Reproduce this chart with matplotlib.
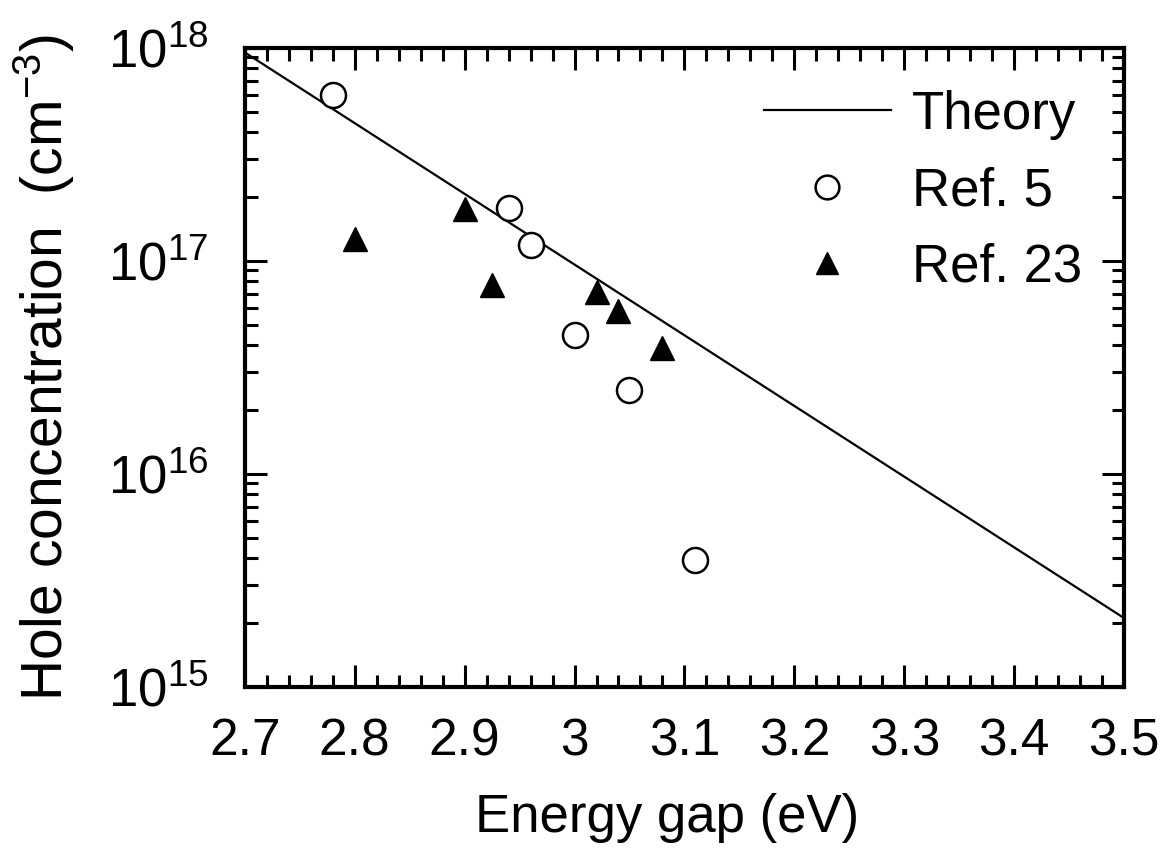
import numpy as np
import matplotlib
matplotlib.use("Agg")
import matplotlib.pyplot as plt
from matplotlib.ticker import FixedLocator, MultipleLocator, LogLocator, FuncFormatter, NullFormatter

plt.rcParams['font.family'] = ['Liberation Sans', 'DejaVu Sans']
plt.rcParams['mathtext.fontset'] = 'custom'
plt.rcParams['mathtext.rm'] = 'Liberation Sans'
plt.rcParams['mathtext.it'] = 'Liberation Sans'

# data
theory_x = [2.7, 3.5]
theory_y = [9.5e17, 2.1e15]

ref5_x = [2.78, 2.94, 2.96, 3.00, 3.05, 3.11]
ref5_y = [6.0e17, 1.77e17, 1.19e17, 4.5e16, 2.46e16, 3.95e15]

ref23_x = [2.80, 2.90, 2.925, 3.02, 3.04, 3.08]
ref23_y = [1.26e17, 1.75e17, 7.7e16, 7.1e16, 5.8e16, 3.9e16]

xticks = [2.7, 2.8, 2.9, 3.0, 3.1, 3.2, 3.3, 3.4, 3.5]

fig = plt.figure(figsize=(11.71, 8.51), dpi=100)
ax = fig.add_axes([0.209, 0.193, 0.751, 0.751])

ax.plot(theory_x, theory_y, color='black', lw=1.6, label='Theory')
ax.plot(ref5_x, ref5_y, 'o', ms=18, mfc='white', mec='black', mew=1.8, ls='none', label='Ref. 5')
ax.plot(ref23_x, ref23_y, '^', ms=17, color='black', ls='none', label='Ref. 23')

ax.set_yscale('log')
ax.set_xlim(2.7, 3.5)
ax.set_ylim(1e15, 1e18)

ax.xaxis.set_major_locator(FixedLocator(xticks))
ax.xaxis.set_major_formatter(FuncFormatter(lambda v, p: '%g' % round(v, 2)))
ax.xaxis.set_minor_locator(MultipleLocator(0.02))
ax.yaxis.set_major_locator(LogLocator(base=10, numticks=10))
ax.yaxis.set_minor_locator(LogLocator(base=10, subs=np.arange(2, 10), numticks=10))
ax.yaxis.set_minor_formatter(NullFormatter())

ax.tick_params(which='both', direction='in', top=True, right=True, width=2.2)
ax.tick_params(which='major', length=16, labelsize=37)
ax.tick_params(axis='x', which='major', pad=22)
ax.tick_params(axis='y', which='major', pad=26, labelsize=38)
ax.tick_params(which='minor', length=9)
for s in ax.spines.values():
    s.set_linewidth(3)

ax.set_xlabel('Energy gap (eV)', fontsize=38, labelpad=19)
ax.xaxis.label.set_x(0.48)
ax.set_ylabel(r'Hole concentration  (cm$^{-3}$)', fontsize=41, labelpad=22)

leg = ax.legend(loc='upper right', frameon=False, fontsize=38, handlelength=2.4,
                handletextpad=0.4, labelspacing=0.5, borderaxespad=0.4,
                markerscale=0.95)

fig.savefig('out.png', dpi=100)
